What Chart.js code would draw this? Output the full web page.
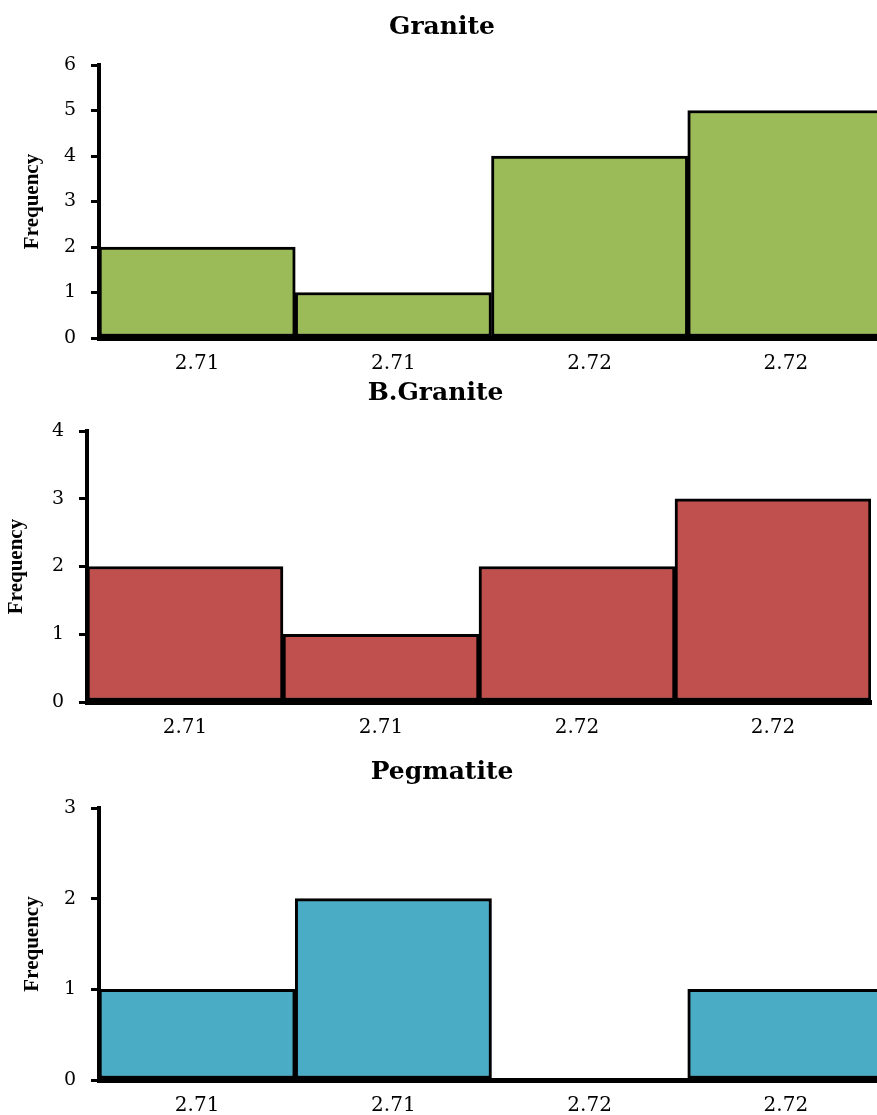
<!DOCTYPE html>
<html>
<head>
<meta charset="utf-8">
<script src="https://cdn.jsdelivr.net/npm/chart.js@4.4.0/dist/chart.umd.min.js"></script>
<style>
  html, body { margin: 0; padding: 0; background: #fff; overflow: hidden; width: 877px; height: 1115px; }
  .box { position: absolute; left: 0; width: 884px; }
</style>
</head>
<body>
<div class="box" style="top:0px;height:380px"><canvas id="chart-1"></canvas></div>
<div class="box" style="top:375px;height:370px"><canvas id="chart-2"></canvas></div>
<div class="box" style="top:750px;height:365px"><canvas id="chart-3"></canvas></div>
<script>
// bin labels (same for all three histograms)
const binLabels = ["2.71", "2.71", "2.72", "2.72"];

// frequencies per bin
const graniteFreq = [2, 1, 4, 5];
const bGraniteFreq = [2, 1, 2, 3];
const pegmatiteFreq = [1, 2, 0, 1];

// y axis maxima
const graniteMax = 6;
const bGraniteMax = 4;
const pegmatiteMax = 3;

Chart.defaults.color = "#000";
Chart.defaults.font.family = "'DejaVu Serif', 'Liberation Serif', serif";

function makeHistogram(id, title, values, yMax, color, opts) {
  const ctx = document.getElementById(id).getContext("2d");
  return new Chart(ctx, {
    type: "bar",
    data: {
      labels: binLabels,
      datasets: [
        {
          label: title,
          data: values,
          backgroundColor: color,
          borderColor: "#000",
          borderWidth: 3,
          borderSkipped: false,
          categoryPercentage: 1,
          barPercentage: 1,
        },
      ],
    },
    options: {
      responsive: true,
      maintainAspectRatio: false,
      animation: false,
      layout: { padding: { left: 0, right: opts.padRight, top: 0, bottom: 0 } },
      plugins: {
        legend: { display: false },
        tooltip: { enabled: false },
        title: {
          display: true,
          text: title,
          font: { size: 25, weight: "bold" },
          padding: { top: opts.titleTop, bottom: opts.titleBottom },
        },
      },
      scales: {
        x: {
          grid: { display: true, drawOnChartArea: false, drawTicks: false },
          border: { display: true, color: "#000", width: 5 },
          ticks: { font: { size: 20 }, padding: 14 },
          afterFit: (scale) => { scale.height = opts.xHeight; },
        },
        y: {
          min: 0,
          max: yMax,
          ticks: { stepSize: 1, font: { size: 19 }, padding: 15 },
          grid: { drawOnChartArea: false, drawTicks: true, tickLength: 8, color: "#000", lineWidth: 3 },
          border: { display: true, color: "#000", width: 4 },
          title: {
            display: true,
            text: "Frequency",
            font: { family: "'Liberation Serif', serif", size: 21, weight: "bold" },
            padding: { top: opts.yTitlePad, bottom: 0 },
          },
          afterFit: (scale) => { scale.width = opts.yWidth; },
        },
      },
    },
  });
}

makeHistogram("chart-1", "Granite", graniteFreq, graniteMax, "#9BBB59",
  { padRight: 0, titleTop: 12, titleBottom: 23, xHeight: 42, yWidth: 99, yTitlePad: 20 });
makeHistogram("chart-2", "B.Granite", bGraniteFreq, bGraniteMax, "#C0504D",
  { padRight: 13, titleTop: 3, titleBottom: 23, xHeight: 43, yWidth: 87, yTitlePad: 4 });
makeHistogram("chart-3", "Pegmatite", pegmatiteFreq, pegmatiteMax, "#4BACC6",
  { padRight: 0, titleTop: 7, titleBottom: 21, xHeight: 35, yWidth: 99, yTitlePad: 20 });
</script>
</body>
</html>
